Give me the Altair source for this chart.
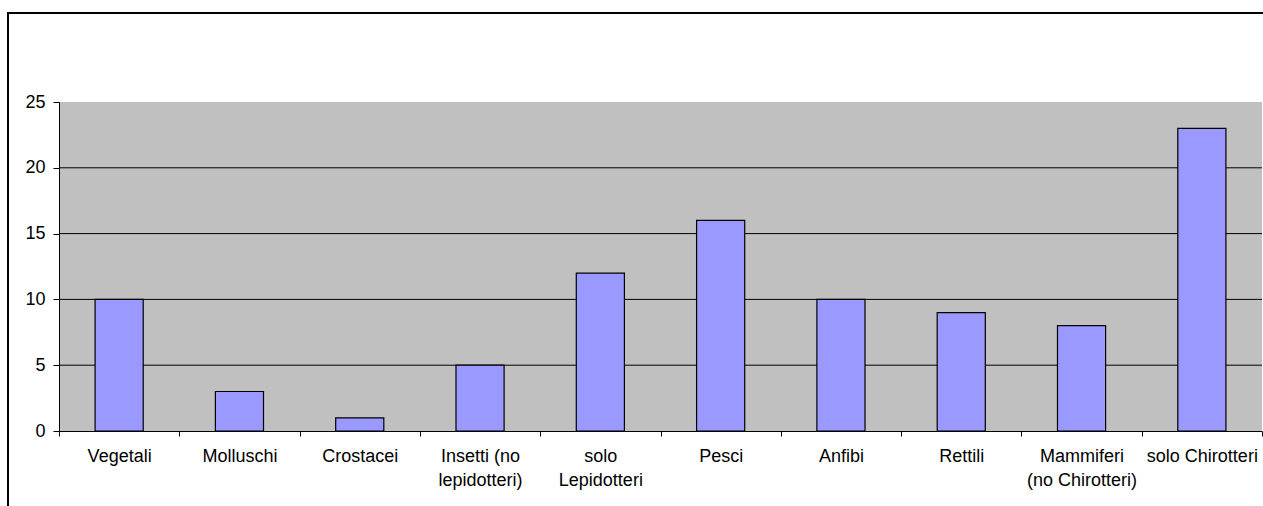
import altair as alt
import pandas as pd

# Diet categories (line breaks mark two-line axis labels) and counts
categories = [
    "Vegetali", "Molluschi", "Crostacei", "Insetti (no\nlepidotteri)",
    "solo\nLepidotteri", "Pesci", "Anfibi", "Rettili",
    "Mammiferi\n(no Chirotteri)", "solo Chirotteri",
]
counts = [10, 3, 1, 5, 12, 16, 10, 9, 8, 23]
y_ticks = [0, 5, 10, 15, 20, 25]
grid_values = [5, 10, 15, 20]

df = pd.DataFrame({"categoria": categories, "valore": counts})
grid_df = pd.DataFrame({"valore": grid_values})

FONT = "Liberation Sans"

x_enc = alt.X(
    "categoria:N",
    sort=None,
    title=None,
    scale=alt.Scale(paddingInner=0, paddingOuter=0),
    axis=alt.Axis(
        labelAngle=0,
        labelExpr="split(datum.label, '\\n')",
        labelLineHeight=24,
        labelPadding=11,
        labelFontSize=18,
        labelFont=FONT,
        labelColor="black",
        labelLimit=0,
        tickBand="extent",
        tickSize=5,
        tickColor="black",
        domainColor="black",
        grid=False,
    ),
)
y_scale = alt.Scale(domain=[0, 25], nice=False)
y_enc = alt.Y(
    "valore:Q",
    title=None,
    scale=y_scale,
    axis=alt.Axis(
        values=y_ticks,
        labelFontSize=18,
        labelFont=FONT,
        labelColor="black",
        labelPadding=8,
        tickSize=6,
        tickColor="black",
        domainColor="black",
        grid=False,
    ),
)

grid = alt.Chart(grid_df).mark_rule(color="black", strokeWidth=1).encode(
    y=alt.Y("valore:Q", scale=y_scale)
)

bars = alt.Chart(df).mark_bar(
    color="#9999FF", stroke="black", strokeWidth=1.2,
    width=alt.RelativeBandSize(0.4),
).encode(x=x_enc, y=y_enc)

# Outer chart-area frame, drawn as two thin filled strips (left and top edges)
frame_left = alt.Chart(alt.Data(values=[{}])).mark_rect(
    fill="black", strokeWidth=0
).encode(
    x=alt.value(-52), x2=alt.value(-50),
    y=alt.value(-90), y2=alt.value(410),
)
frame_top = alt.Chart(alt.Data(values=[{}])).mark_rect(
    fill="black", strokeWidth=0
).encode(
    x=alt.value(-52), x2=alt.value(1204),
    y=alt.value(-90), y2=alt.value(-88),
)

chart = alt.layer(grid, bars, frame_left, frame_top).properties(
    width=1203,
    height=329,
    autosize=alt.AutoSizeParams(type="none"),
    padding={"left": 59, "top": 102, "right": 1, "bottom": 75},
    background="white",
).configure_view(fill="#C0C0C0", stroke=None)

chart.save("out.html", embed_options={"renderer": "svg", "actions": False})
